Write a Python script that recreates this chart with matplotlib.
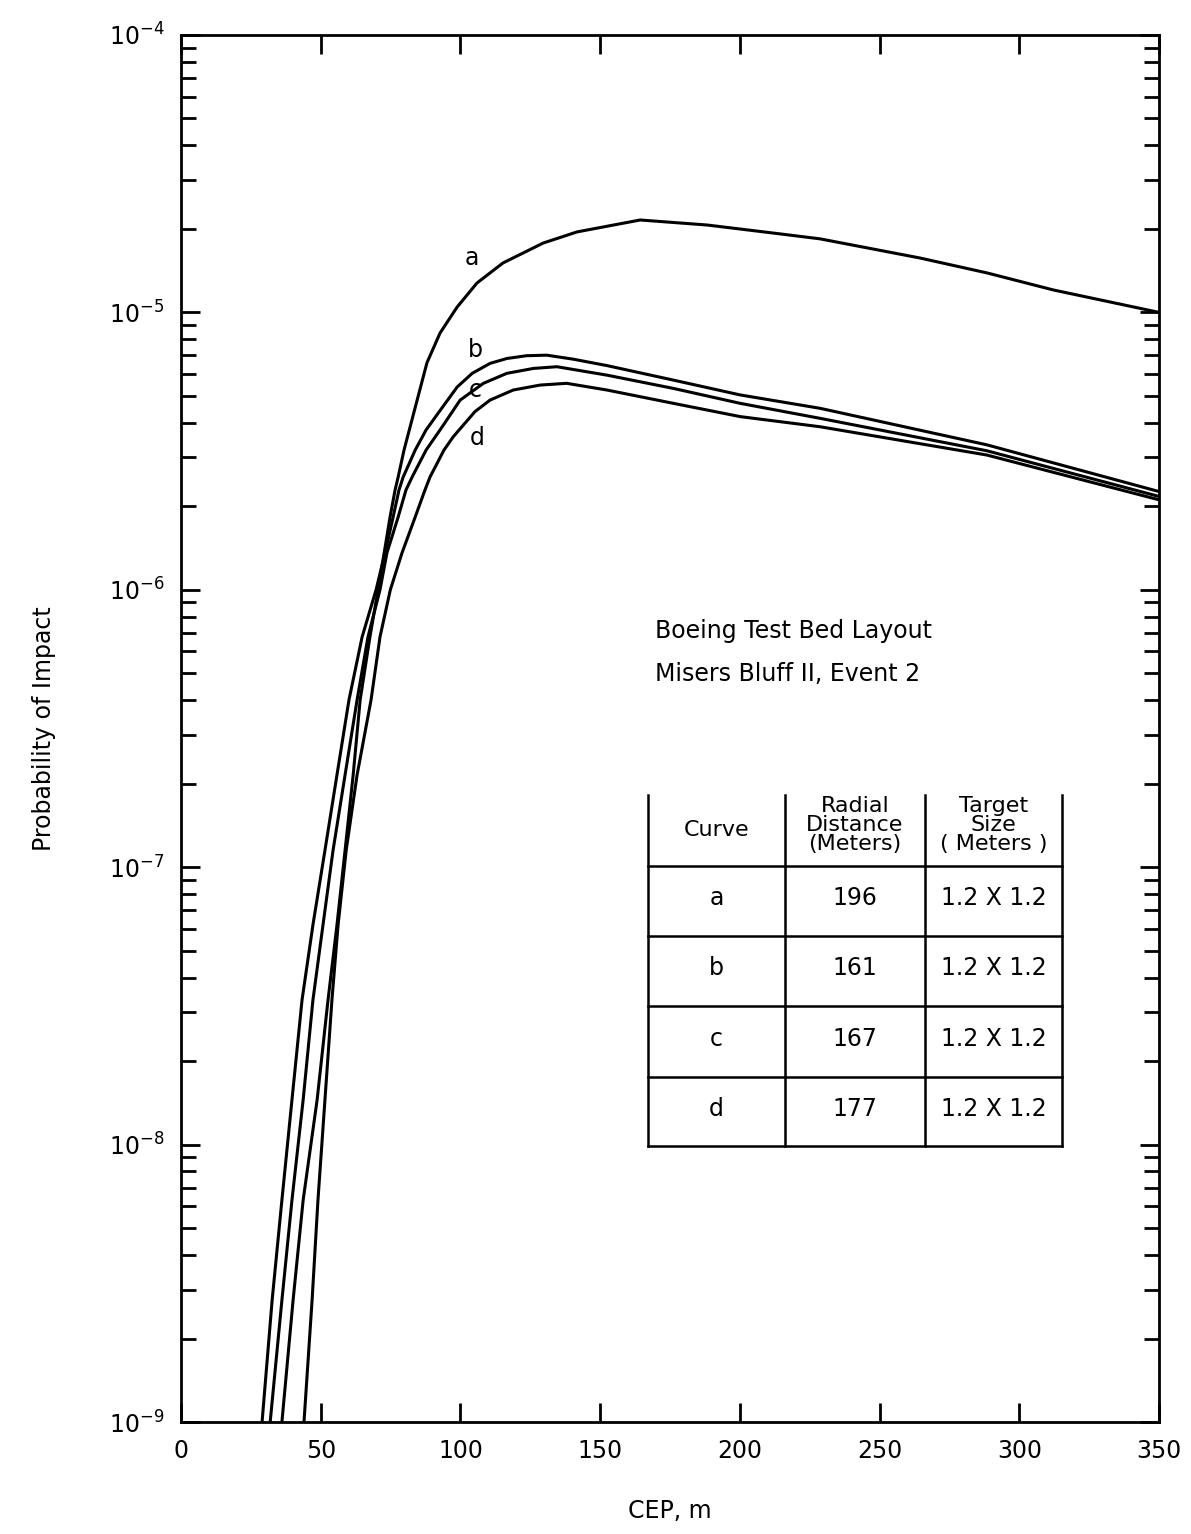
import numpy as np
import matplotlib
matplotlib.use("Agg")
import matplotlib.pyplot as plt
from matplotlib.ticker import NullFormatter, FixedLocator, LogFormatterMathtext

plt.rcParams["font.family"] = ["DejaVu Sans"]
plt.rcParams["mathtext.fontset"] = "dejavusans"

# probability levels shared by the steep (left) part of every curve
p_low = [1.0e-9, 2.75e-9, 6.31e-9, 1.45e-8, 3.32e-8, 6.19e-8, 1.15e-7, 2.15e-7,
         4.01e-7, 6.76e-7, 1.0e-6, 1.36e-6, 1.83e-6, 2.29e-6, 2.55e-6, 3.19e-6]

# curve a: CEP (m) / probability of impact
cep_a = [36.1, 40.1, 43.7, 48.7, 52.6, 55.8, 58.7, 61.6, 64.1, 67.6, 70.5,
         72.7, 74.8, 76.6, 77.7, 79.8,
         88.0, 92.7, 98.8, 105.9, 115.2, 129.6, 141.7, 164.3, 188.3, 211.9,
         228.7, 264.5, 288.5, 312.1, 350.0]
p_a = p_low + [6.58e-6, 8.43e-6, 1.045e-5, 1.276e-5, 1.507e-5, 1.778e-5,
               1.95e-5, 2.153e-5, 2.065e-5, 1.932e-5, 1.841e-5, 1.57e-5,
               1.387e-5, 1.205e-5, 1.0e-5]

cep_b = [29.0, 32.6, 36.1, 39.7, 43.3, 47.2, 51.5, 55.8, 60.1, 64.8, 69.8,
         73.0, 75.9, 78.0, 79.5, 83.8,
         87.7, 92.0, 98.8, 104.2, 110.6, 116.6, 123.7, 130.9, 140.4, 152.4,
         176.2, 200.1, 228.7, 288.4, 350.0]
p_b = p_low + [3.77e-6, 4.33e-6, 5.38e-6, 6.03e-6, 6.55e-6, 6.82e-6, 6.98e-6,
               7.01e-6, 6.78e-6, 6.43e-6, 5.70e-6, 5.04e-6, 4.51e-6, 3.33e-6,
               2.26e-6]

cep_c = [31.9, 36.1, 39.7, 43.7, 47.2, 50.8, 54.4, 58.7, 63.0, 66.9, 71.2,
         73.7, 77.7, 80.5, 82.7, 87.7,
         92.7, 99.9, 108.2, 116.6, 126.1, 134.5, 152.4, 176.2, 200.1, 228.7,
         288.4, 350.0]
p_c = p_low + [3.77e-6, 4.83e-6, 5.55e-6, 6.03e-6, 6.28e-6, 6.37e-6, 5.94e-6,
               5.32e-6, 4.70e-6, 4.15e-6, 3.17e-6, 2.17e-6]

cep_d = [44.0, 46.9, 49.0, 51.5, 54.0, 56.2, 59.1, 63.0, 68.0, 71.2, 74.9,
         79.1, 83.8, 87.3, 89.1, 94.1,
         97.4, 105.2, 110.6, 118.9, 128.5, 138.0, 152.4, 176.2, 200.1, 228.7,
         288.4, 350.0]
p_d = p_low + [3.56e-6, 4.39e-6, 4.83e-6, 5.25e-6, 5.47e-6, 5.55e-6, 5.25e-6,
               4.70e-6, 4.21e-6, 3.87e-6, 3.06e-6, 2.11e-6]

curve_names = ["a", "b", "c", "d"]
radial_dist = ["196", "161", "167", "177"]
target_size = ["1.2 X 1.2"] * 4

x_ticks = [0, 50, 100, 150, 200, 250, 300, 350]
decades = [1e-9, 1e-8, 1e-7, 1e-6, 1e-5, 1e-4]

fig = plt.figure(figsize=(11.91, 15.34), dpi=100)
ax = fig.add_axes([0.152, 0.073, 0.8212, 0.9042])

for xs, ys in [(cep_a, p_a), (cep_b, p_b), (cep_c, p_c), (cep_d, p_d)]:
    ax.plot(xs, ys, color="black", lw=2.2, solid_capstyle="round",
            solid_joinstyle="round")

ax.set_yscale("log")
ax.set_xlim(0, 350)
ax.set_ylim(1e-9, 1e-4)

ax.xaxis.set_major_locator(FixedLocator(x_ticks))
ax.yaxis.set_major_locator(FixedLocator(decades))
ax.yaxis.set_major_formatter(LogFormatterMathtext())
minor = [d * k for d in decades[:-1] for k in range(2, 10)]
ax.yaxis.set_minor_locator(FixedLocator(minor))
ax.yaxis.set_minor_formatter(NullFormatter())

ax.tick_params(which="both", direction="in", top=True, right=True,
               labelsize=17, width=2, pad=12)
ax.tick_params(which="major", length=14)
ax.tick_params(which="minor", length=11)
for sp in ax.spines.values():
    sp.set_linewidth(2)

ax.set_xlabel("CEP, m", fontsize=17, labelpad=26)
ax.set_ylabel("Probability of Impact", fontsize=17, labelpad=38)

# curve letters
label_pos = {"a": (104.2, 1.57e-5), "b": (105.3, 7.31e-6),
             "c": (105.3, 5.25e-6), "d": (106.0, 3.52e-6)}
for name, (lx, ly) in label_pos.items():
    ax.text(lx, ly, name, fontsize=17, ha="center", va="center")

ax.text(0.4847, 0.5702, "Boeing Test Bed Layout", transform=ax.transAxes,
        fontsize=17, va="center", ha="left")
ax.text(0.4847, 0.5392, "Misers Bluff II, Event 2", transform=ax.transAxes,
        fontsize=17, va="center", ha="left")

# table
col_x = [0.4775, 0.6176, 0.7607, 0.9008]
row_y = [0.4521, 0.4009, 0.3504, 0.2999, 0.2487, 0.1990]
kw = dict(transform=ax.transAxes, color="black", lw=1.8)
for cx in col_x:
    ax.plot([cx, cx], [row_y[0], row_y[-1]], **kw)
for ry in row_y[1:]:
    ax.plot([col_x[0], col_x[-1]], [ry, ry], **kw)

headers = ["Curve", "Radial\nDistance\n(Meters)", "Target\nSize\n( Meters )"]
hy = (row_y[0] + row_y[1]) / 2 + 0.004
for i, h in enumerate(headers):
    cx = (col_x[i] + col_x[i + 1]) / 2
    ax.text(cx, hy - (0.004 if i == 0 else 0), h, transform=ax.transAxes,
            fontsize=16, ha="center", va="center", linespacing=0.95)

for r in range(4):
    cy = (row_y[r + 1] + row_y[r + 2]) / 2 + 0.002
    vals = [curve_names[r], radial_dist[r], target_size[r]]
    for i, v in enumerate(vals):
        cx = (col_x[i] + col_x[i + 1]) / 2
        ax.text(cx, cy, v, transform=ax.transAxes, fontsize=17,
                ha="center", va="center")

fig.savefig("out.png", dpi=100, facecolor="white")
